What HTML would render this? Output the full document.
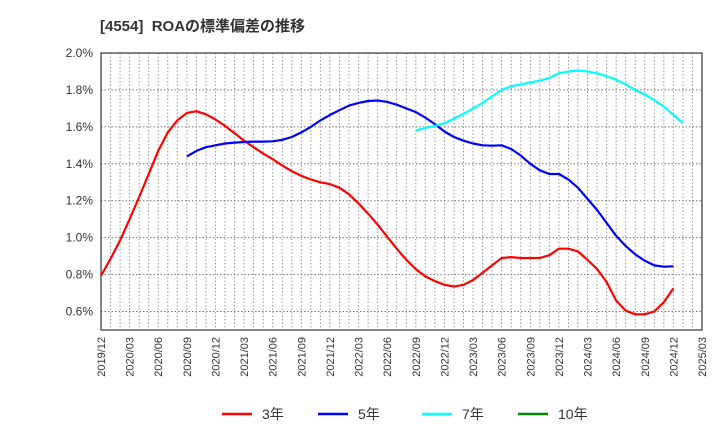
<!DOCTYPE html>
<html><head><meta charset="utf-8"><style>
body{margin:0;background:#fff;}
svg text{font-family:"Liberation Sans","Noto Sans CJK JP",sans-serif;}
</style></head><body>
<svg id="chart" width="720" height="440" xmlns="http://www.w3.org/2000/svg">
<text x="100" y="31" font-size="15" font-weight="bold" fill="#333">[4554]&#160; ROAの標準偏差の推移</text>
<g id="grid"></g><g id="axes"></g><g id="series"></g>
<g font-size="14" fill="#333">
<line x1="222" y1="414" x2="252" y2="414" stroke="#f00" stroke-width="2.5"/><text x="262" y="419">3年</text>
<line x1="318" y1="414" x2="348" y2="414" stroke="#00f" stroke-width="2.5"/><text x="358" y="419">5年</text>
<line x1="422" y1="414" x2="452" y2="414" stroke="#0ff" stroke-width="2.5"/><text x="462" y="419">7年</text>
<line x1="518" y1="414" x2="548" y2="414" stroke="#080" stroke-width="2.5"/><text x="558" y="419">10年</text>
</g>
</svg>
<script>
const xTickLabels=["2019/12","2020/03","2020/06","2020/09","2020/12","2021/03","2021/06","2021/09","2021/12","2022/03","2022/06","2022/09","2022/12","2023/03","2023/06","2023/09","2023/12","2024/03","2024/06","2024/09","2024/12","2025/03"];
const yTicks=[0.6,0.8,1.0,1.2,1.4,1.6,1.8,2.0];
const red3=[0.793,0.885,0.985,1.1,1.22,1.345,1.47,1.57,1.635,1.675,1.685,1.668,1.64,1.605,1.565,1.525,1.49,1.455,1.425,1.39,1.36,1.335,1.315,1.30,1.29,1.27,1.235,1.185,1.13,1.07,1.005,0.94,0.88,0.83,0.79,0.765,0.745,0.735,0.745,0.77,0.81,0.85,0.89,0.895,0.89,0.89,0.89,0.905,0.94,0.94,0.925,0.88,0.83,0.76,0.66,0.605,0.585,0.585,0.6,0.65,0.725];
const blue5Start=9;
const blue5=[1.44,1.47,1.49,1.50,1.51,1.515,1.518,1.52,1.52,1.522,1.53,1.545,1.57,1.60,1.635,1.665,1.69,1.715,1.73,1.74,1.743,1.735,1.72,1.70,1.68,1.65,1.615,1.575,1.545,1.525,1.51,1.50,1.498,1.50,1.48,1.445,1.40,1.365,1.345,1.345,1.315,1.27,1.21,1.15,1.08,1.01,0.955,0.91,0.875,0.85,0.843,0.845];
const cyan7Start=33;
const cyan7=[1.58,1.595,1.605,1.62,1.645,1.67,1.70,1.73,1.765,1.80,1.82,1.83,1.84,1.85,1.865,1.89,1.90,1.905,1.90,1.89,1.875,1.855,1.83,1.80,1.775,1.745,1.71,1.665,1.62];
const green10=[];
const L=101,R=702,T=53,B=330,yMin=0.5,yMax=2.0,months=63;
const NS="http://www.w3.org/2000/svg";
const xs=m=>L+(R-L)*m/months;
const ys=v=>B-(v-yMin)/(yMax-yMin)*(B-T);
function mk(t,a,p){const e=document.createElementNS(NS,t);for(const k in a)e.setAttribute(k,a[k]);p.appendChild(e);return e;}
const grid=document.getElementById('grid'),axes=document.getElementById('axes'),ser=document.getElementById('series');
for(let m=1;m<months;m++){const l=mk('line',{x1:xs(m),x2:xs(m),y1:T,y2:B,stroke:'#999','stroke-dasharray':'1.5,2','stroke-width':1},grid);

}
yTicks.forEach(v=>{const l=mk('line',{x1:L,x2:R,y1:ys(v),y2:ys(v),stroke:'#777','stroke-dasharray':'1.5,2','stroke-width':1},grid);


const t=mk('text',{x:L-8,y:ys(v)+4,'text-anchor':'end','font-size':12,fill:'#333'},axes);t.textContent=v.toFixed(1)+'%';

});
const fr=mk('rect',{x:L,y:T,width:R-L,height:B-T,fill:'none',stroke:'#333','stroke-width':1.2},axes);


xTickLabels.forEach((s,i)=>{const x=xs(i*3);const t=mk('text',{x:0,y:0,'text-anchor':'end','font-size':11,fill:'#333',transform:`translate(${x+4},${B+7}) rotate(-90)`},axes);t.textContent=s;

});
function line(arr,start,color,name){if(!arr.length)return;const d=arr.map((v,i)=>(i?'L':'M')+xs(start+i).toFixed(1)+','+ys(v).toFixed(1)).join('');
const p=mk('path',{d:d,fill:'none',stroke:color,'stroke-width':2.2,'stroke-linejoin':'round'},ser);

}
line(red3,0,'#f00','series-3yr');
line(blue5,blue5Start,'#00f','series-5yr');
line(cyan7,cyan7Start,'#0ff','series-7yr');
line(green10,0,'#080','series-10yr');
</script>
</body></html>
